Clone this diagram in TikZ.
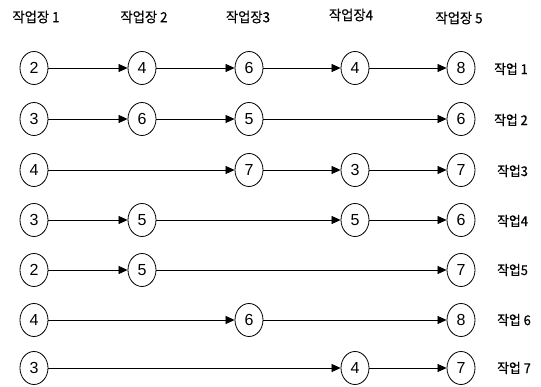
\documentclass[tikz,border=0pt]{standalone}
\usepackage{fontspec}
\setmainfont{Liberation Sans}
\newfontfamily\kr[FakeBold=0.6,FakeStretch=0.95]{Noto Sans CJK KR}
\usetikzlibrary{shapes.geometric,arrows.meta}
\tikzset{
  job/.style={ellipse, draw, line width=0.8pt, minimum width=28pt, minimum height=33pt,
    inner sep=0pt, font=\fontsize{16}{16}\selectfont},
  flow/.style={line width=0.75pt, -{Triangle[length=9pt,width=8pt]}},
  head/.style={font=\kr\fontsize{14}{14}\selectfont, inner sep=0pt},
  tag/.style={font=\kr\fontsize{13.5}{14}\selectfont, inner sep=0pt, anchor=west}
}
\begin{document}
\begin{tikzpicture}[x=1pt,y=-1pt]
\useasboundingbox (0,0) rectangle (541,387);
% column (workstation) positions
\def\ca{34}\def\cb{142}\def\cc{249}\def\cd{355}\def\ce{461}
% workstation headers
\node[head] (h1) at (36,17) {작업장 1};
\node[head] (h2) at (144,17) {작업장 2};
\node[head] (h3) at (248,17) {작업장3};
\node[head] (h4) at (351,15) {작업장4};
\node[head] (h5) at (459,18) {작업장 5};

% job 1
\node[job] (a1) at (\ca,68) {2};
\node[job] (a2) at (\cb,68) {4};
\node[job] (a3) at (\cc,68) {6};
\node[job] (a4) at (\cd,68) {4};
\node[job] (a5) at (\ce,68) {8};
\node[tag] (ta) at (494,69) {작업 1};
\draw[flow] (a1) -- (a2); \draw[flow] (a2) -- (a3);
\draw[flow] (a3) -- (a4); \draw[flow] (a4) -- (a5);

% job 2
\node[job] (b1) at (\ca,119) {3};
\node[job] (b2) at (\cb,119) {6};
\node[job] (b3) at (\cc,119) {5};
\node[job] (b5) at (\ce,119) {6};
\node[tag] (tb) at (494,120) {작업 2};
\draw[flow] (b1) -- (b2); \draw[flow] (b2) -- (b3); \draw[flow] (b3) -- (b5);

% job 3
\node[job] (c1) at (\ca,170) {4};
\node[job] (c3) at (\cc,170) {7};
\node[job] (c4) at (\cd,170) {3};
\node[job] (c5) at (\ce,170) {7};
\node[tag] (tc) at (497,171) {작업3};
\draw[flow] (c1) -- (c3); \draw[flow] (c3) -- (c4); \draw[flow] (c4) -- (c5);

% job 4
\node[job] (d1) at (\ca,220) {3};
\node[job] (d2) at (\cb,220) {5};
\node[job] (d4) at (\cd,220) {5};
\node[job] (d5) at (\ce,220) {6};
\node[tag] (td) at (497,221) {작업4};
\draw[flow] (d1) -- (d2); \draw[flow] (d2) -- (d4); \draw[flow] (d4) -- (d5);

% job 5
\node[job] (e1) at (\ca,270) {2};
\node[job] (e2) at (\cb,270) {5};
\node[job] (e5) at (\ce,270) {7};
\node[tag] (te) at (497,270) {작업5};
\draw[flow] (e1) -- (e2); \draw[flow] (e2) -- (e5);

% job 6
\node[job] (f1) at (\ca,320) {4};
\node[job] (f3) at (\cc,320) {6};
\node[job] (f5) at (\ce,320) {8};
\node[tag] (tf) at (497,320) {작업 6};
\draw[flow] (f1) -- (f3); \draw[flow] (f3) -- (f5);

% job 7
\node[job] (g1) at (\ca,368) {3};
\node[job] (g4) at (\cd,368) {4};
\node[job] (g5) at (\ce,368) {7};
\node[tag] (tg) at (497,368) {작업 7};
\draw[flow] (g1) -- (g4); \draw[flow] (g4) -- (g5);
\end{tikzpicture}
\end{document}
